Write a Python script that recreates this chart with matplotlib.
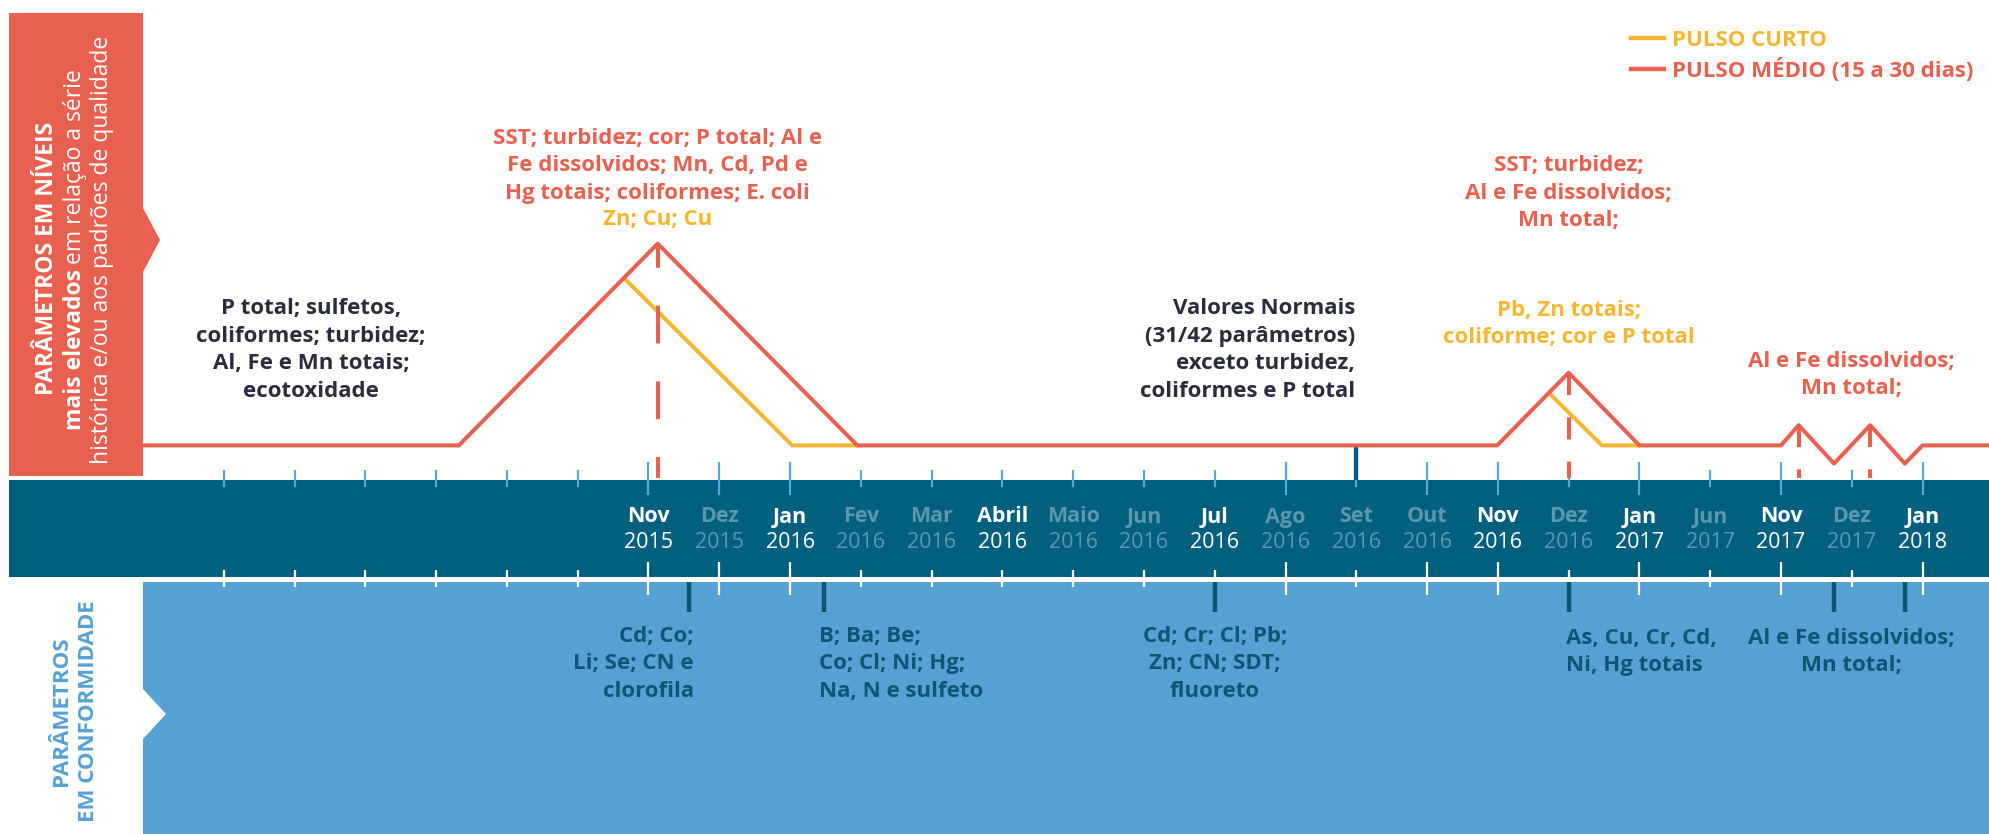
import matplotlib.pyplot as plt
from matplotlib.patches import Polygon, Rectangle
from matplotlib.lines import Line2D

plt.rcParams['font.family'] = ['Open Sans', 'DejaVu Sans']

# eixo: um slot por mes mostrado (Nov 2015 = 0)
meses = ['Nov', 'Dez', 'Jan', 'Fev', 'Mar', 'Abril', 'Maio', 'Jun', 'Jul', 'Ago',
         'Set', 'Out', 'Nov', 'Dez', 'Jan', 'Jun', 'Nov', 'Dez', 'Jan']
anos = ['2015', '2015', '2016', '2016', '2016', '2016', '2016', '2016', '2016', '2016',
        '2016', '2016', '2016', '2016', '2017', '2017', '2017', '2017', '2018']
destaque = [1, 0, 1, 0, 0, 1, 0, 0, 1, 0, 0, 0, 1, 0, 1, 0, 1, 0, 1]
ticks_longos = [0, 1, 2, 9, 11, 12, 14, 16, 18]
primeiro_tick = -6

# pulso medio (vermelho) e pulso curto (amarelo): posicao em meses, nivel relativo
medio_x = [-7.14, -2.68, 0.13, 2.95, 11.99, 13.0, 14.0, 16.0, 16.25, 16.75, 17.26, 17.75, 18.0, 18.95]
medio_y = [0, 0, 1.0, 0, 0, 0.36, 0, 0, 0.10, -0.09, 0.10, -0.09, 0, 0]
curto1_x = [-0.32, 2.03, 2.95]
curto1_y = [0.82, 0, 0]
curto2_x = [12.75, 13.47, 14.0]
curto2_y = [0.25, 0, 0]
picos_x = [0.13, 13.0, 16.25, 17.26]
picos_y = [1.0, 0.36, 0.10, 0.10]
marco_set = 10
conform_x = [0.57, 2.48, 8.0, 13.0, 16.75, 17.75]

txt_antes = "P total; sulfetos,\ncoliformes; turbidez;\nAl, Fe e Mn totais;\necotoxidade"
txt_pico1 = "SST; turbidez; cor; P total; Al e\nFe dissolvidos; Mn, Cd, Pd e\nHg totais; coliformes; E. coli"
txt_pico1_curto = "Zn; Cu; Cu"
txt_normal = "Valores Normais\n(31/42 parâmetros)\nexceto turbidez,\ncoliformes e P total"
txt_pico2 = "SST; turbidez;\nAl e Fe dissolvidos;\nMn total;"
txt_pico2_curto = "Pb, Zn totais;\ncoliforme; cor e P total"
txt_pico3 = "Al e Fe dissolvidos;\nMn total;"
conf_txt = ["Cd; Co;\nLi; Se; CN e\nclorofila",
            "B; Ba; Be;\nCo; Cl; Ni; Hg;\nNa, N e sulfeto",
            "Cd; Cr; Cl; Pb;\nZn; CN; SDT;\nfluoreto",
            "As, Cu, Cr, Cd,\nNi, Hg totais",
            "Al e Fe dissolvidos;\nMn total;"]

RED = '#e8604f'
YELLOW = '#f5b731'
DARK = '#2b2d3d'
NAVY = '#02607f'
BLUE = '#56a1d3'
TXTBLUE = '#0d5674'
TICKBLUE = '#5aa7da'
FADED = '#5b97b1'

W, H = 1990, 834
NOV_PX, MES_PX = 648.5, 70.78      # posicao de Nov 2015 e largura de um mes
BASE_PX, NIVEL_PX = 445.4, 201.8   # linha base e altura do pico principal

def fx(p):
    return p / W

def fy(p):
    return 1 - p / H

def vy(p):
    return (BASE_PX - p) / NIVEL_PX

fig = plt.figure(figsize=(19.9, 8.34), dpi=100)
ax = fig.add_axes([0, 0, 1, 1])
ax.set_xlim(-NOV_PX / MES_PX, (W - NOV_PX) / MES_PX)
ax.set_ylim((BASE_PX - H) / NIVEL_PX, BASE_PX / NIVEL_PX)
ax.axis('off')

# fundos
ax.add_patch(Polygon([(fx(9), fy(13)), (fx(143), fy(13)), (fx(143), fy(208)), (fx(160), fy(240)),
                      (fx(143), fy(272)), (fx(143), fy(476)), (fx(9), fy(476))],
                     transform=ax.transAxes, color=RED, lw=0, zorder=0))
ax.add_patch(Rectangle((fx(9), fy(577)), fx(W) - fx(9), fy(480) - fy(577),
                       transform=ax.transAxes, color=NAVY, lw=0, zorder=0))
ax.add_patch(Polygon([(fx(143), fy(582)), (fx(W), fy(582)), (fx(W), fy(H)), (fx(143), fy(H)),
                      (fx(143), fy(739)), (fx(166), fy(714)), (fx(143), fy(689))],
                     transform=ax.transAxes, color=BLUE, lw=0, zorder=0))

# ticks
slots = list(range(primeiro_tick, len(meses)))
longo = [s in ticks_longos for s in slots]
ax.vlines(slots, [vy(495) if l else vy(487) for l in longo], [vy(462) if l else vy(470) for l in longo],
          color=TICKBLUE, lw=1.6, zorder=1)
ax.vlines(slots, [vy(595) if l else vy(587) for l in longo], [vy(562) if l else vy(570) for l in longo],
          color='white', lw=1.6, zorder=1)

# meses
for i, (m, a, d) in enumerate(zip(meses, anos, destaque)):
    c = 'white' if d else FADED
    ax.text(i, vy(517), m, ha='center', va='center', color=c, fontsize=15.5, fontweight='bold')
    ax.text(i, vy(543), a, ha='center', va='center', color=c, fontsize=15.5)

# pulsos
ax.plot(curto1_x, curto1_y, color=YELLOW, lw=2.9, zorder=3)
ax.plot(curto2_x, curto2_y, color=YELLOW, lw=2.9, zorder=3)
ax.plot(medio_x, medio_y, color=RED, lw=2.9, zorder=4)
for k, (x, y) in enumerate(zip(picos_x, picos_y)):
    estilo = (3.5, (9.4, 9.4)) if k == 0 else (0, (5.5, 5.5))
    ax.plot([x, x], [y, vy(478)], color=RED, lw=2.9, linestyle=estilo, zorder=5)
ax.vlines(marco_set, vy(480), 0, color=NAVY, lw=3.2, zorder=2)
ax.vlines(conform_x, vy(612), vy(582), color=TXTBLUE, lw=3.2, zorder=2)

# textos de cima
kw = dict(fontsize=16, fontweight='bold', linespacing=1.4, va='center', zorder=6)
ax.text(-4.77, vy(350), txt_antes, color=DARK, ha='center', **kw)
ax.text(0.13, vy(166), txt_pico1, color=RED, ha='center', **kw)
ax.text(0.13, vy(220), txt_pico1_curto, color=YELLOW, ha='center', **kw)
ax.text(9.98, vy(350), txt_normal, color=DARK, ha='right', multialignment='right', **kw)
ax.text(13.0, vy(193), txt_pico2, color=RED, ha='center', **kw)
ax.text(13.0, vy(324), txt_pico2_curto, color=YELLOW, ha='center', **kw)
ax.text(17.0, vy(375), txt_pico3, color=RED, ha='center', **kw)

# textos de baixo
ax.text(0.64, vy(664), conf_txt[0], color=TXTBLUE, ha='right', multialignment='right', **kw)
ax.text(2.41, vy(664), conf_txt[1], color=TXTBLUE, ha='left', multialignment='left', **kw)
ax.text(8.0, vy(664), conf_txt[2], color=TXTBLUE, ha='center', **kw)
ax.text(12.96, vy(652), conf_txt[3], color=TXTBLUE, ha='left', multialignment='left', **kw)
ax.text(17.0, vy(652), conf_txt[4], color=TXTBLUE, ha='center', **kw)

# legenda
leg = ax.legend(handles=[Line2D([], [], color=YELLOW, lw=3.2), Line2D([], [], color=RED, lw=3.2)],
                labels=['PULSO CURTO', 'PULSO MÉDIO (15 a 30 dias)'],
                loc='upper left', bbox_to_anchor=(fx(1631), fy(30)), bbox_transform=ax.transAxes,
                frameon=False, handlelength=1.5, handletextpad=0.35, labelspacing=0.3,
                borderpad=0, borderaxespad=0, prop=dict(size=16, weight='bold'))
for t, c in zip(leg.get_texts(), [YELLOW, RED]):
    t.set_color(c)

# rotulos laterais
rk = dict(transform=ax.transAxes, rotation=90, color='white', fontsize=16.5)
ax.text(fx(47), fy(258), 'PARÂMETROS EM NÍVEIS', ha='center', va='center', fontweight='bold', **rk)
ax.text(fx(102), fy(250), 'histórica e/ou aos padrões de qualidade', ha='center', va='center', **rk)
t_b = ax.text(fx(75), 0, 'mais elevados', ha='center', va='bottom', fontweight='bold', **rk)
t_r = ax.text(fx(75), 0, 'em relação a série', ha='center', va='bottom', **rk)
fig.canvas.draw()
r = fig.canvas.get_renderer()
hb = t_b.get_window_extent(r).height
hr = t_r.get_window_extent(r).height
gap = 5
y0 = (H - 250) - (hb + gap + hr) / 2
t_b.set_y(y0 / H)
t_r.set_y((y0 + hb + gap) / H)

ax.text(fx(75), fy(711), 'PARÂMETROS\nEM CONFORMIDADE', transform=ax.transAxes, rotation=90,
        ha='center', va='center', color=BLUE, fontsize=16, fontweight='bold', linespacing=1.4)

fig.savefig('out.png', dpi=100)
